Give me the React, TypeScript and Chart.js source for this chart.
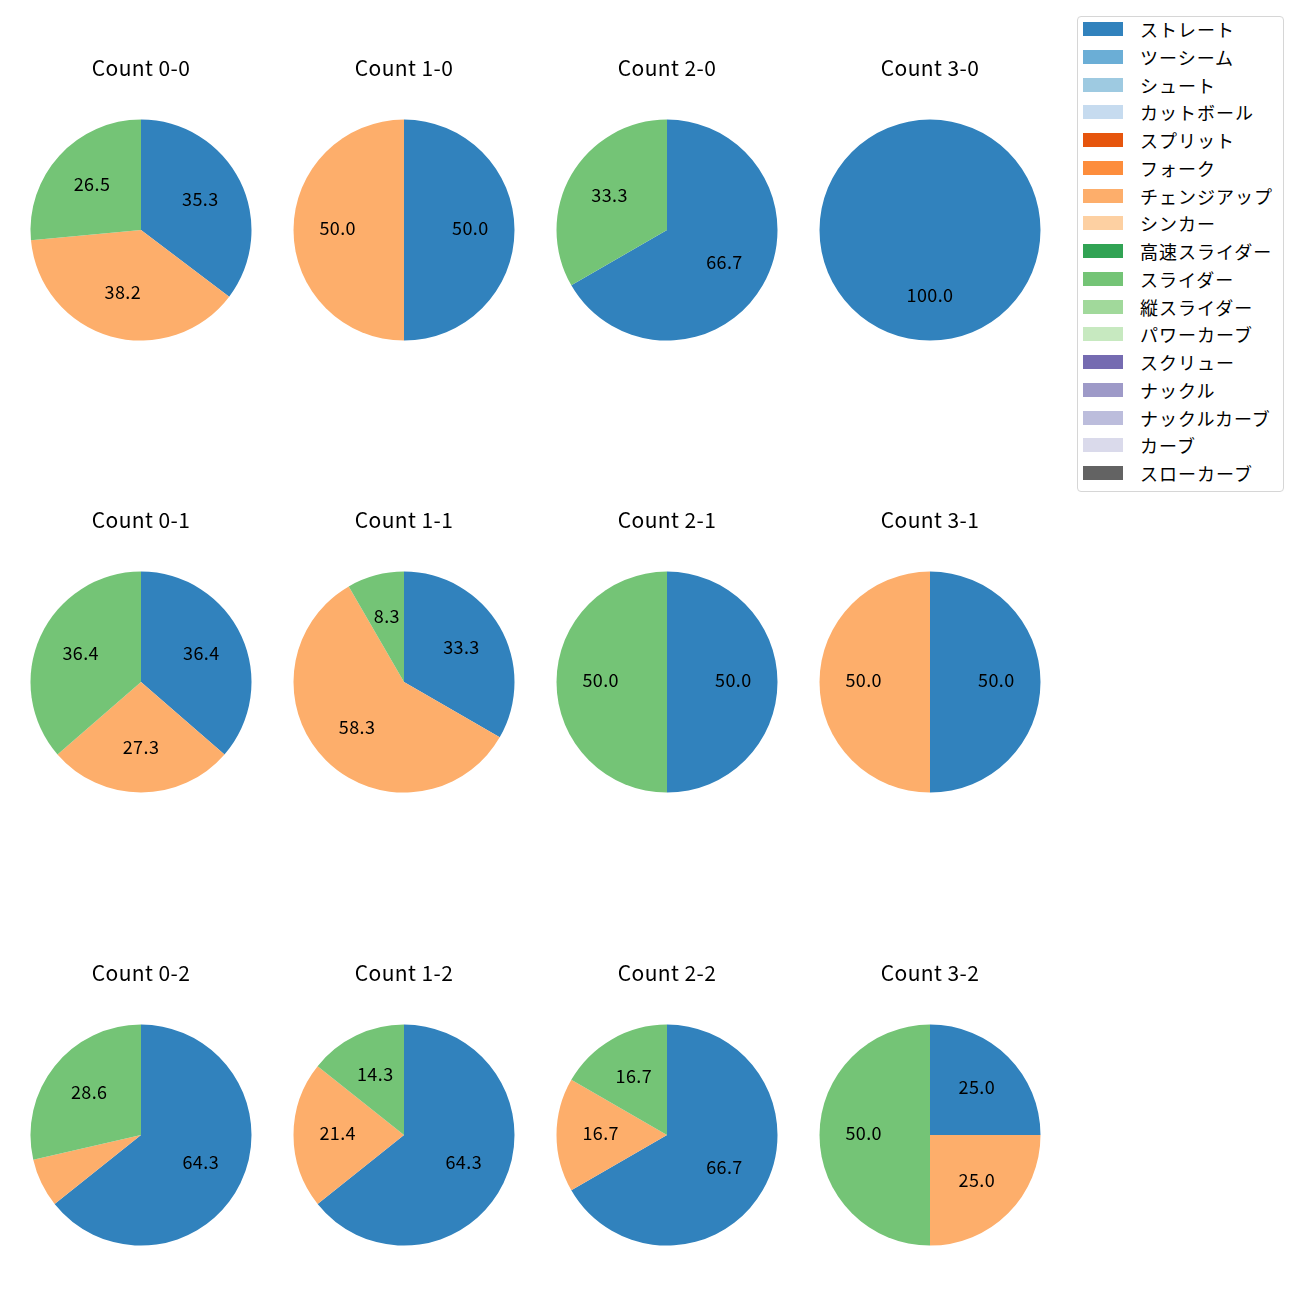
import React, { useEffect, useRef } from "react";
import { Chart, registerables } from "chart.js";

Chart.register(...registerables);

// Pitch types (legend order) and their colours (tab20c)
const pitchTypes = [
  "ストレート", "ツーシーム", "シュート", "カットボール", "スプリット", "フォーク",
  "チェンジアップ", "シンカー", "高速スライダー", "スライダー", "縦スライダー",
  "パワーカーブ", "スクリュー", "ナックル", "ナックルカーブ", "カーブ", "スローカーブ",
];
const pitchColors = [
  "#3182bd", "#6baed6", "#9ecae1", "#c6dbef", "#e6550d", "#fd8d3c",
  "#fdae6b", "#fdd0a2", "#31a354", "#74c476", "#a1d99b",
  "#c7e9c0", "#756bb1", "#9e9ac8", "#bcbddc", "#dadaeb", "#636363",
];

// Counts (balls-strikes), in grid order (rows: strikes 0..2, cols: balls 0..3)
const countTitles = [
  "Count 0-0", "Count 1-0", "Count 2-0", "Count 3-0",
  "Count 0-1", "Count 1-1", "Count 2-1", "Count 3-1",
  "Count 0-2", "Count 1-2", "Count 2-2", "Count 3-2",
];
// Pitch counts per situation for the three pitch types thrown
const straightCounts = [12, 1, 2, 1, 4, 4, 1, 1, 9, 9, 4, 1];
const changeupCounts = [13, 1, 0, 0, 3, 7, 0, 1, 1, 3, 1, 1];
const sliderCounts = [9, 0, 1, 0, 4, 1, 1, 0, 4, 2, 1, 2];

const usedTypes = ["ストレート", "チェンジアップ", "スライダー"];

const FONT = "'Noto Sans CJK JP', 'Noto Sans', sans-serif";
const colCenters = [141, 404, 667, 930];
const rowCenters = [228.5, 681, 1133.5];
const RADIUS = 110.5;
const CW = 250;
const CH = 325;

const pctLabelPlugin = {
  id: "pctLabels",
  afterDatasetsDraw(chart: any) {
    const ctx = chart.ctx;
    const ds = chart.data.datasets[0];
    const total = ds.data.reduce((a: number, b: number) => a + b, 0);
    const meta = chart.getDatasetMeta(0);
    ctx.save();
    ctx.fillStyle = "#000";
    ctx.font = `18px ${FONT}`;
    try {
      (ctx as any).letterSpacing = "0.4px";
    } catch (e) {}
    ctx.textAlign = "center";
    ctx.textBaseline = "middle";
    meta.data.forEach((arc: any, i: number) => {
      const v = ds.data[i];
      if (!v) return;
      const pct = (v / total) * 100;
      if (pct < 8) return;
      const p = arc.getProps(["x", "y", "startAngle", "endAngle", "outerRadius"], true);
      const mid = (p.startAngle + p.endAngle) / 2;
      const r = p.outerRadius * 0.6;
      ctx.fillText(pct.toFixed(1), p.x + Math.cos(mid) * r, p.y + Math.sin(mid) * r - 1.5);
    });
    ctx.restore();
  },
};

function PieChart({ index }: { index: number }) {
  const ref = useRef<HTMLCanvasElement>(null);
  useEffect(() => {
    const values = [straightCounts[index], changeupCounts[index], sliderCounts[index]];
    const colors = usedTypes.map((t) => pitchColors[pitchTypes.indexOf(t)]);
    const canvas = ref.current as HTMLCanvasElement;
    const chart = new Chart(canvas, {
      type: "pie",
      data: {
        labels: usedTypes,
        datasets: [
          {
            data: values,
            backgroundColor: colors,
            borderWidth: 0,
            hoverOffset: 0,
            radius: RADIUS,
          } as any,
        ],
      },
      options: {
        responsive: false,
        animation: false,
        events: [],
        plugins: {
          legend: { display: false },
          tooltip: { enabled: false },
          title: {
            display: true,
            text: countTitles[index],
            color: "#000",
            font: { family: FONT, size: 21, weight: "normal" as any, lineHeight: 1.2 },
            padding: { top: 11, bottom: 11 },
          },
        },
      },
      plugins: [
        {
          id: "titleSpacing",
          beforeDraw(c: any) {
            try {
              (c.ctx as any).letterSpacing = "0.4px";
            } catch (e) {}
          },
        },
        pctLabelPlugin,
      ],
    });
    return () => chart.destroy();
  }, [index]);
  const row = Math.floor(index / 4);
  const col = index % 4;
  return (
    <canvas
      ref={ref}
      width={CW}
      height={CH}
      style={{
        position: "absolute",
        left: colCenters[col] - CW / 2,
        top: rowCenters[row] - 185,
        width: CW,
        height: CH,
      }}
    />
  );
}

function Legend() {
  return (
    <div
      style={{
        position: "absolute",
        left: 1077,
        top: 16,
        width: 207,
        height: 476,
        border: "1px solid #d6d6d6",
        borderRadius: 4,
        background: "#fff",
        boxSizing: "border-box",
      }}
    >
      {pitchTypes.map((t, i) => (
        <div
          key={t}
          style={{
            position: "absolute",
            left: 0,
            top: 12 + i * 27.75 - 14,
            height: 28,
            display: "flex",
            alignItems: "center",
          }}
        >
          <div
            style={{
              marginLeft: 5,
              width: 40,
              height: 14,
              background: pitchColors[i],
            }}
          />
          <span
            style={{
              marginLeft: 17,
              fontFamily: FONT,
              fontSize: 18,
              letterSpacing: "1px",
              color: "#000",
              whiteSpace: "nowrap",
              lineHeight: "28px",
            }}
          >
            {t}
          </span>
        </div>
      ))}
    </div>
  );
}

export default function App() {
  return (
    <div
      style={{
        position: "absolute",
        left: 0,
        top: 0,
        width: 1300,
        height: 1300,
        background: "#fff",
        overflow: "hidden",
      }}
    >
      {countTitles.map((_, i) => (
        <PieChart key={i} index={i} />
      ))}
      <Legend />
    </div>
  );
}
